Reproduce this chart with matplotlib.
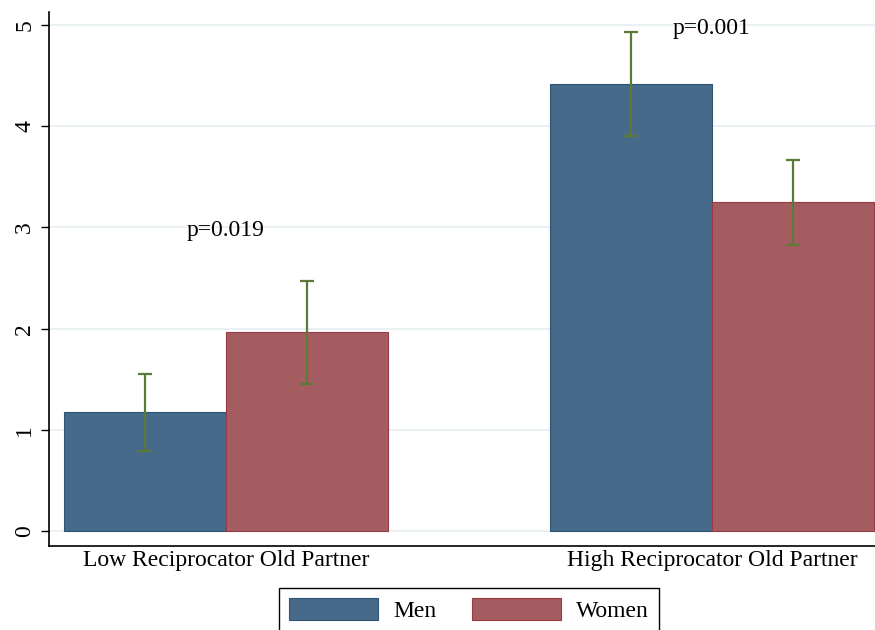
import matplotlib
matplotlib.use("Agg")
import matplotlib.pyplot as plt
import numpy as np

MEN_COL = "#476a8b"
MEN_EDGE = "#2e5476"
WOMEN_COL = "#a55c60"
WOMEN_EDGE = "#983a42"
ERR_COL = "#5a7a35"

groups = ["Low Reciprocator Old Partner", "High Reciprocator Old Partner"]
men = [1.18, 4.42]
men_lo = [0.79, 3.90]
men_hi = [1.55, 4.93]
women = [1.97, 3.25]
women_lo = [1.45, 2.83]
women_hi = [2.47, 3.67]
pvals = ["p=0.019", "p=0.001"]
p_y = [2.97, 4.97]

plt.rcParams["font.family"] = ["Liberation Serif", "DejaVu Serif"]

fig = plt.figure(figsize=(8.75, 6.3), dpi=100)
ax = fig.add_axes([0.056, 0.133, 0.944, 0.848])

x = np.array([0.0, 3.0])
w = 1.0
men_err = [np.array(men) - np.array(men_lo), np.array(men_hi) - np.array(men)]
women_err = [np.array(women) - np.array(women_lo), np.array(women_hi) - np.array(women)]

ax.bar(x - w / 2, men, w, color=MEN_COL, edgecolor=MEN_EDGE, linewidth=0.8,
       label="Men", zorder=2)
ax.bar(x + w / 2, women, w, color=WOMEN_COL, edgecolor=WOMEN_EDGE, linewidth=0.8,
       label="Women", zorder=2)
ax.errorbar(x - w / 2, men, yerr=men_err, fmt="none", ecolor=ERR_COL,
            elinewidth=1.6, capsize=5, capthick=1.6, zorder=3)
ax.errorbar(x + w / 2, women, yerr=women_err, fmt="none", ecolor=ERR_COL,
            elinewidth=1.6, capsize=5, capthick=1.6, zorder=3)

# p-value annotations
for xi, yi, txt in zip(x, p_y, pvals):
    ax.text(xi, yi, txt, ha="center", va="center", fontsize=17)

ax.set_xlim(-1.093, 4.006)
ax.set_ylim(-0.15, 5.13)
ax.set_yticks(range(6))
ax.set_yticklabels([str(i) for i in range(6)], rotation=90, va="center", fontsize=17)
ax.set_xticks(x)
ax.set_xticklabels(groups, fontsize=17)
ax.tick_params(axis="x", length=0, pad=3)
ax.tick_params(axis="y", length=6, width=1, pad=4)
ax.grid(axis="y", color="#e8f0f3", linewidth=1.3, zorder=0)
ax.set_axisbelow(True)
ax.spines["top"].set_visible(False)
ax.spines["right"].set_visible(False)
for s in ("left", "bottom"):
    ax.spines[s].set_linewidth(1.2)
    ax.spines[s].set_color("black")

fig.legend(loc="upper center", bbox_to_anchor=(0.536, 0.067), ncol=2,
           fontsize=17, frameon=True, fancybox=False, edgecolor="black",
           framealpha=1, handlelength=3.77, handleheight=1.0,
           handletextpad=0.64, columnspacing=1.5, borderpad=0.45,
           borderaxespad=0)

fig.savefig("out.png", dpi=100)
